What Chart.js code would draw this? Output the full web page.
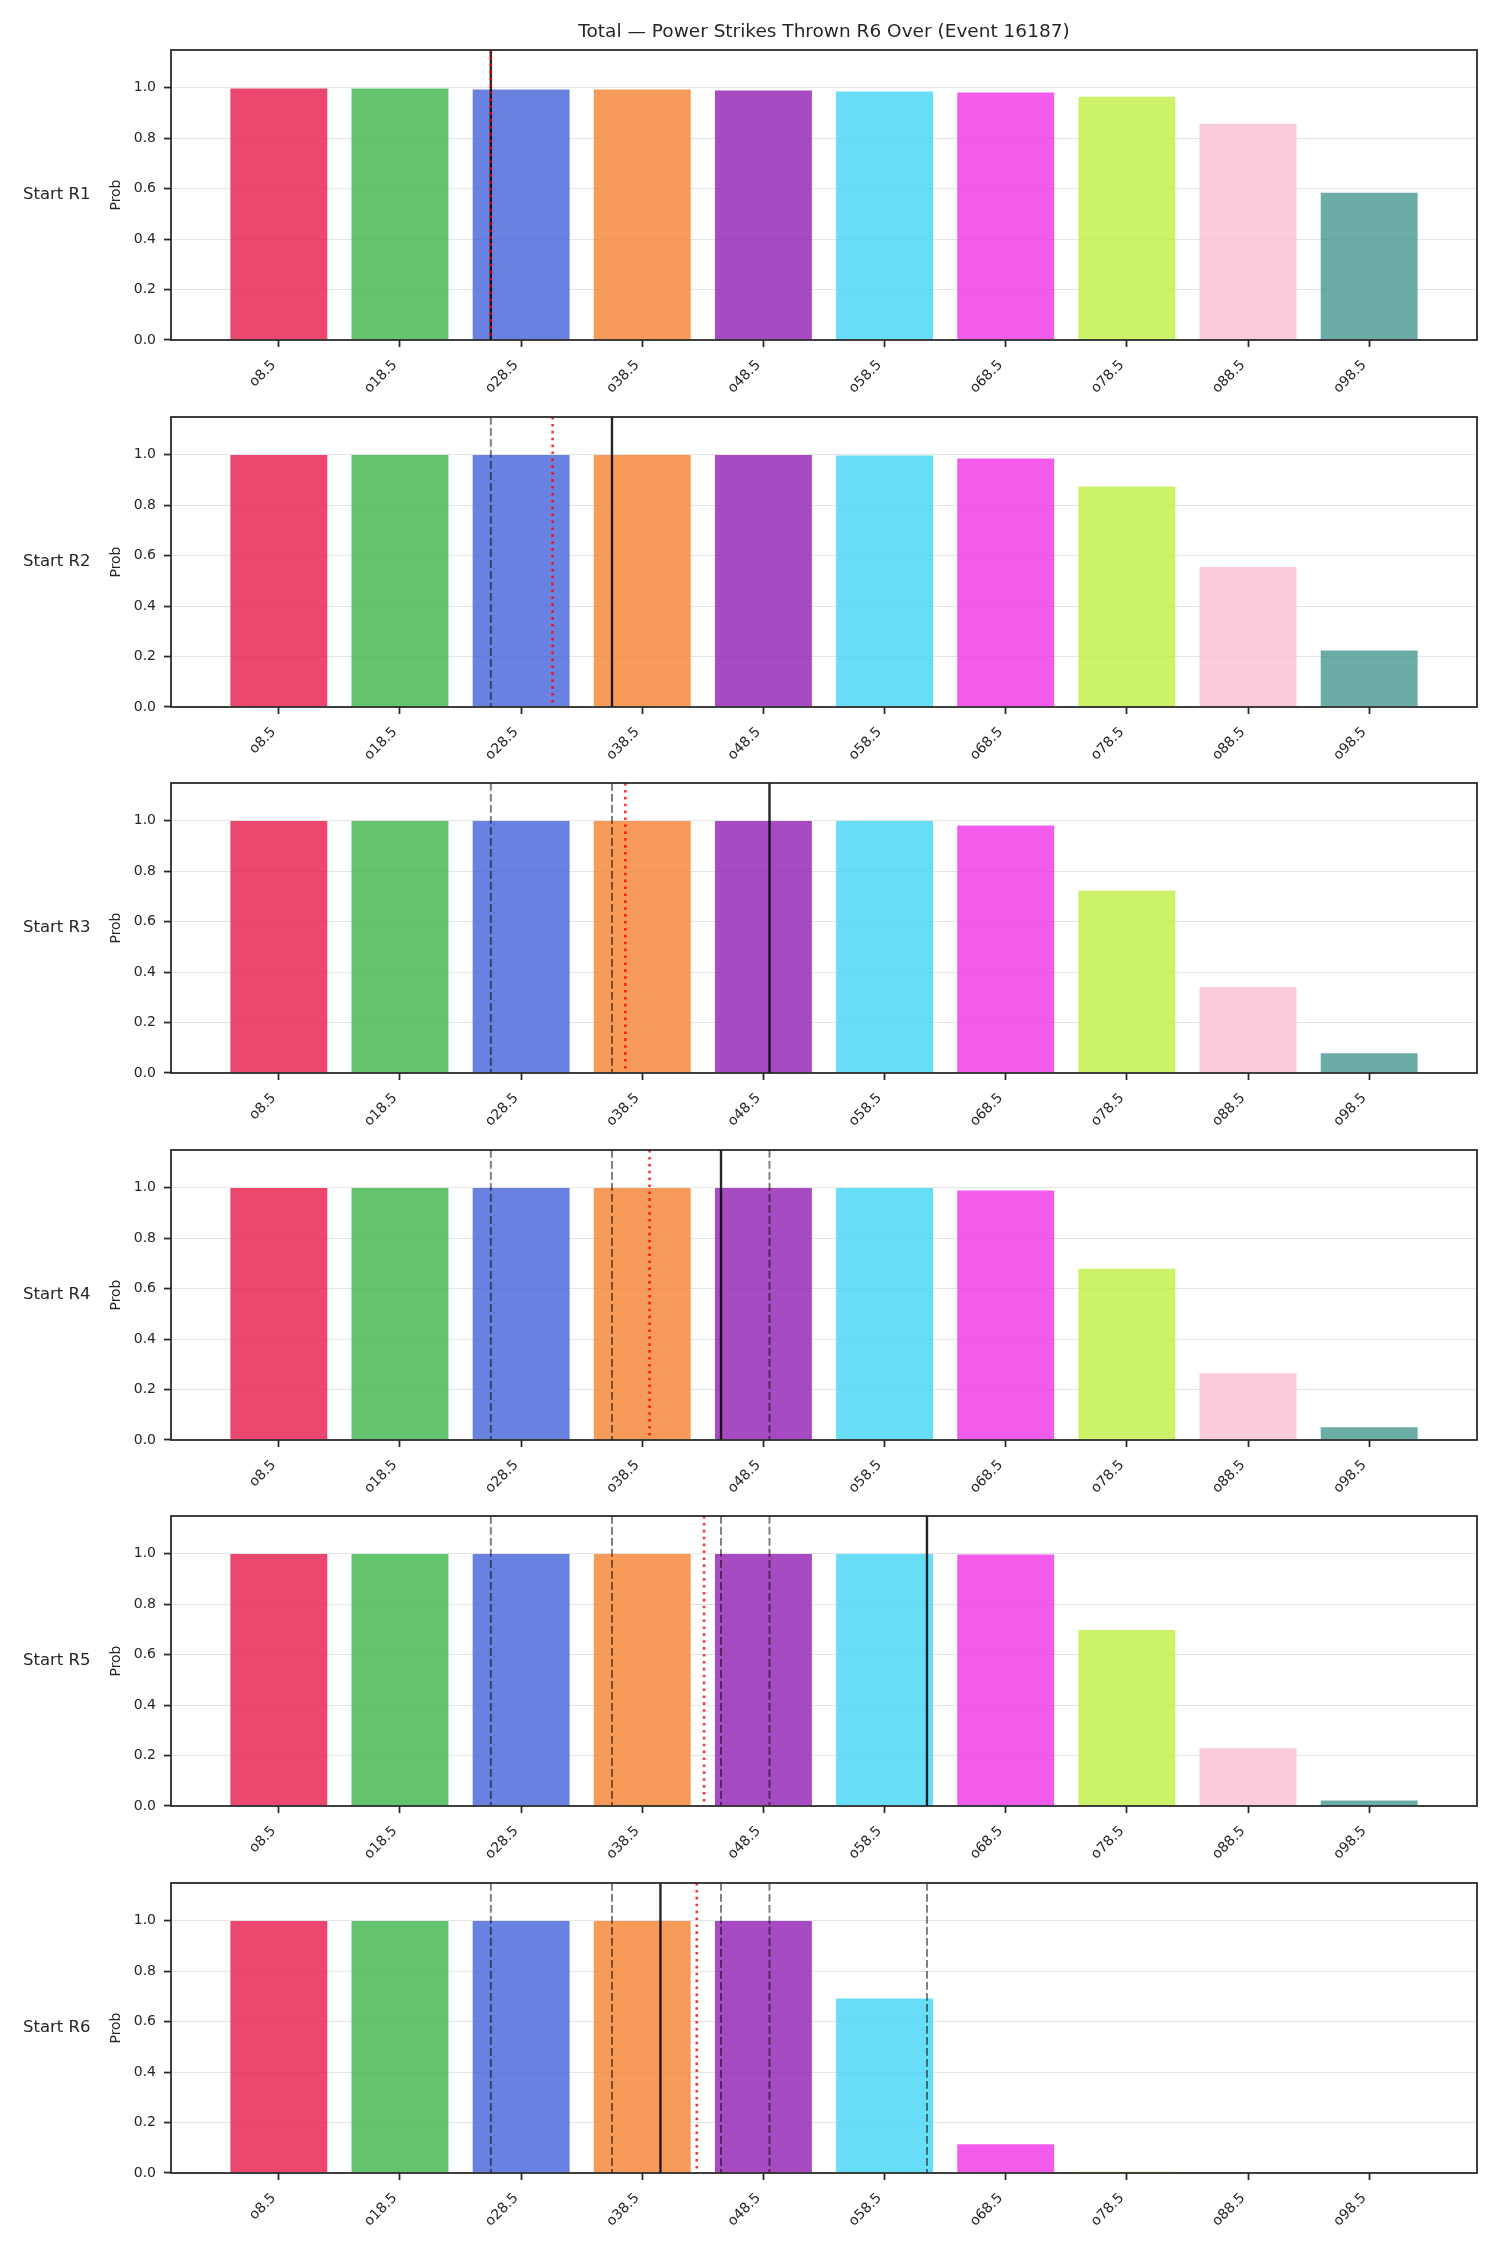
<!DOCTYPE html>
<html>
<head>
<meta charset="utf-8">
<script src="https://cdn.jsdelivr.net/npm/chart.js@4.4.1/dist/chart.umd.min.js"></script>
<style>
  html, body { margin: 0; padding: 0; background: #fff; }
  #wrap { position: relative; width: 1500px; height: 2250px; overflow: hidden; }
  #wrap canvas { position: absolute; left: 0; }
</style>
</head>
<body>
<div id="wrap"></div>
<script>
const chartTitle = 'Total — Power Strikes Thrown R6 Over (Event 16187)';

// strike lines (x positions) and their tick labels
const strikeLines = [8.5, 18.5, 28.5, 38.5, 48.5, 58.5, 68.5, 78.5, 88.5, 98.5];
const tickLabels = ['o8.5', 'o18.5', 'o28.5', 'o38.5', 'o48.5', 'o58.5', 'o68.5', 'o78.5', 'o88.5', 'o98.5'];
const roundLabels = ['Start R1', 'Start R2', 'Start R3', 'Start R4', 'Start R5', 'Start R6'];

// P(over) per line, one array per starting round
const probR1 = [0.997, 0.997, 0.993, 0.993, 0.989, 0.985, 0.981, 0.965, 0.858, 0.584];
const probR2 = [0.999, 0.999, 0.999, 0.999, 0.999, 0.997, 0.985, 0.874, 0.555, 0.224];
const probR3 = [0.999, 0.999, 0.999, 0.999, 0.999, 0.999, 0.981, 0.723, 0.341, 0.078];
const probR4 = [0.999, 0.999, 0.999, 0.999, 0.999, 0.999, 0.989, 0.679, 0.265, 0.051];
const probR5 = [0.999, 0.999, 0.999, 0.999, 0.999, 0.999, 0.997, 0.698, 0.229, 0.022];
const probR6 = [0.999, 0.999, 0.999, 0.999, 0.999, 0.692, 0.114, 0.005, 0.003, 0.004];

// vertical markers: actual count at round start (solid) and projection (red dotted)
const actualAtStart = [26, 36, 49, 45, 62, 40];
const projected = [26, 31.1, 37.1, 39.1, 43.6, 43.0];

const barColors = ['#e6194b', '#3cb44b', '#4363d8', '#f58231', '#911eb4',
                   '#42d4f4', '#f032e6', '#bfef45', '#fabed4', '#469990'];

const panels = [probR1, probR2, probR3, probR4, probR5, probR6];

Chart.defaults.font.family = '"DejaVu Sans", sans-serif';
Chart.defaults.color = '#262626';

function withAlpha(hex, a) {
    const n = parseInt(hex.slice(1), 16);
    return `rgba(${n >> 16}, ${(n >> 8) & 255}, ${n & 255}, ${a})`;
}

function vline(ctx, x, area, color, width, dash) {
    ctx.beginPath();
    ctx.strokeStyle = color;
    ctx.lineWidth = width;
    ctx.setLineDash(dash);
    ctx.moveTo(x, area.top);
    ctx.lineTo(x, area.bottom);
    ctx.stroke();
}

// draws the marker lines, the box around the axes and the row label
const panelDecor = {
    id: 'panelDecor',
    afterDatasetsDraw(chart, args, opts) {
        const { ctx, chartArea: a, scales: { x } } = chart;
        ctx.save();
        ctx.beginPath();
        ctx.rect(a.left, a.top, a.width, a.height);
        ctx.clip();
        opts.previous.forEach(v => vline(ctx, x.getPixelForValue(v), a, 'rgba(0,0,0,0.5)', 2, [7.7, 3.3]));
        vline(ctx, x.getPixelForValue(opts.actual), a, 'rgba(0,0,0,0.85)', 2.4, []);
        vline(ctx, x.getPixelForValue(opts.projected), a, 'rgba(255,0,0,0.8)', 2.6, [2.6, 4.3]);
        ctx.restore();

        ctx.save();
        ctx.strokeStyle = '#262626';
        ctx.lineWidth = 1.75;
        ctx.strokeRect(a.left, a.top, a.width, a.height);
        ctx.font = '16.5px "DejaVu Sans"';
        ctx.fillStyle = '#262626';
        ctx.textAlign = 'left';
        ctx.textBaseline = 'middle';
        ctx.fillText(opts.label, 23, (a.top + a.bottom) / 2);
        ctx.restore();
    }
};

const wrap = document.getElementById('wrap');

panels.forEach((probs, i) => {
    const canvas = document.createElement('canvas');
    canvas.width = 1500;
    canvas.height = 410;
    canvas.style.top = Math.round(i * 366.5) + 'px';
    wrap.appendChild(canvas);

    new Chart(canvas, {
        type: 'bar',
        data: {
            datasets: [{
                data: strikeLines.map((s, j) => ({ x: s, y: probs[j] })),
                backgroundColor: barColors.map(c => withAlpha(c, 0.8)),
                borderWidth: 0,
                barPercentage: 0.8,
                categoryPercentage: 1.0
            }]
        },
        options: {
            responsive: false,
            animation: false,
            events: [],
            layout: { padding: { top: i === 0 ? 0 : 50, right: 23, left: 0, bottom: 0 } },
            plugins: {
                legend: { display: false },
                tooltip: { enabled: false },
                title: {
                    display: i === 0,
                    text: chartTitle,
                    fullSize: false,
                    color: '#262626',
                    font: { size: 18.5, weight: 'normal' },
                    padding: { top: 20.7, bottom: 7.1 }
                },
                panelDecor: {
                    previous: actualAtStart.slice(0, i),
                    actual: actualAtStart[i],
                    projected: projected[i],
                    label: roundLabels[i]
                }
            },
            scales: {
                x: {
                    type: 'linear',
                    min: -0.4,
                    max: 107.4,
                    offset: false,
                    border: { display: false },
                    grid: {
                        offset: false,
                        drawOnChartArea: false,
                        drawTicks: true,
                        tickLength: 7,
                        tickColor: '#262626',
                        tickWidth: 1.75
                    },
                    ticks: {
                        autoSkip: false,
                        minRotation: 45,
                        maxRotation: 45,
                        padding: 10,
                        labelOffset: -5,
                        font: { size: 14 },
                        color: '#262626',
                        callback: (v, idx) => tickLabels[idx]
                    },
                    afterBuildTicks: s => { s.ticks = strikeLines.map(v => ({ value: v })); },
                    afterFit: s => { s.height = 70; }
                },
                y: {
                    min: 0,
                    max: 1.15,
                    border: { display: false },
                    grid: {
                        color: '#e4e4e4',
                        lineWidth: 1.1,
                        drawTicks: true,
                        tickLength: 7,
                        tickColor: '#262626',
                        tickWidth: 1.75
                    },
                    ticks: {
                        stepSize: 0.2,
                        includeBounds: false,
                        padding: 8,
                        font: { size: 14 },
                        color: '#262626',
                        callback: v => v.toFixed(1)
                    },
                    title: {
                        display: true,
                        text: 'Prob',
                        color: '#262626',
                        font: { size: 13.9 },
                        padding: { top: 107.7, bottom: 0 }
                    },
                    afterFit: s => { s.width = 171; }
                }
            }
        },
        plugins: [panelDecor]
    });
});
</script>
</body>
</html>
